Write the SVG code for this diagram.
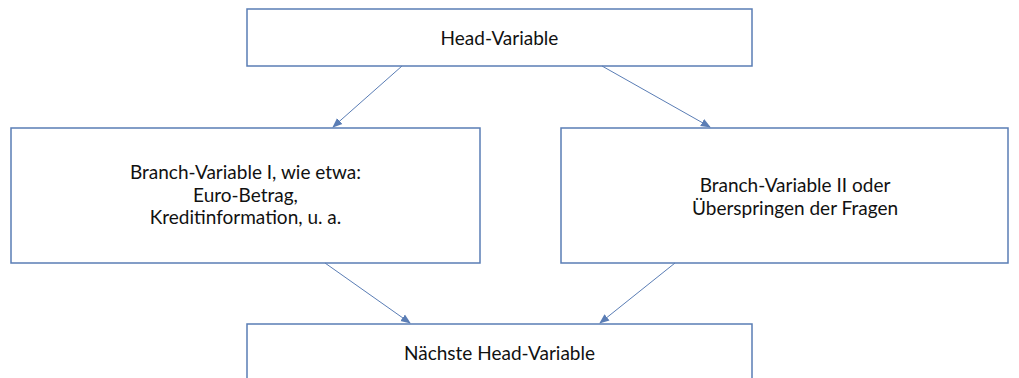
<svg xmlns="http://www.w3.org/2000/svg" width="1019" height="378" viewBox="0 0 1019 378">
<style>
.box{fill:#fff;stroke:#5a7db5;stroke-width:1.5}
.t{font-family:Lato,"Liberation Sans",sans-serif;font-size:19px;fill:#111;text-anchor:middle}
.c{stroke:#5a7db5;stroke-width:1;fill:none;marker-end:url(#ah)}
</style>
<defs>
<marker id="ah" viewBox="0 0 10 10" refX="9" refY="5" markerWidth="10" markerHeight="10" markerUnits="userSpaceOnUse" orient="auto">
<path d="M0,1 L10,5 L0,9 Z" fill="#5a7db5"/>
</marker>
</defs>
<rect width="1019" height="378" fill="#fff"/>
<g id="head">
<rect class="box" x="247" y="9" width="505" height="57"/>
<text class="t" x="499.5" y="45">Head-Variable</text>
</g>
<g id="branch1">
<rect class="box" x="11" y="128" width="469" height="135"/>
<text class="t" x="245.5" y="179">Branch-Variable I, wie etwa:</text>
<text class="t" x="245.5" y="201.5">Euro-Betrag,</text>
<text class="t" x="245.5" y="224">Kreditinformation, u. a.</text>
</g>
<g id="branch2">
<rect class="box" x="561" y="128" width="447" height="135"/>
<text class="t" x="795" y="192">Branch-Variable II oder</text>
<text class="t" x="795" y="214.5">Überspringen der Fragen</text>
</g>
<g id="next">
<rect class="box" x="247" y="324" width="505" height="70"/>
<text class="t" x="499.5" y="360">Nächste Head-Variable</text>
</g>
<g id="connectors">
<line class="c" x1="402" y1="66" x2="333" y2="127"/>
<line class="c" x1="602" y1="66" x2="710" y2="127"/>
<line class="c" x1="325" y1="263" x2="410" y2="323"/>
<line class="c" x1="675" y1="263" x2="600" y2="323"/>
</g>
</svg>
